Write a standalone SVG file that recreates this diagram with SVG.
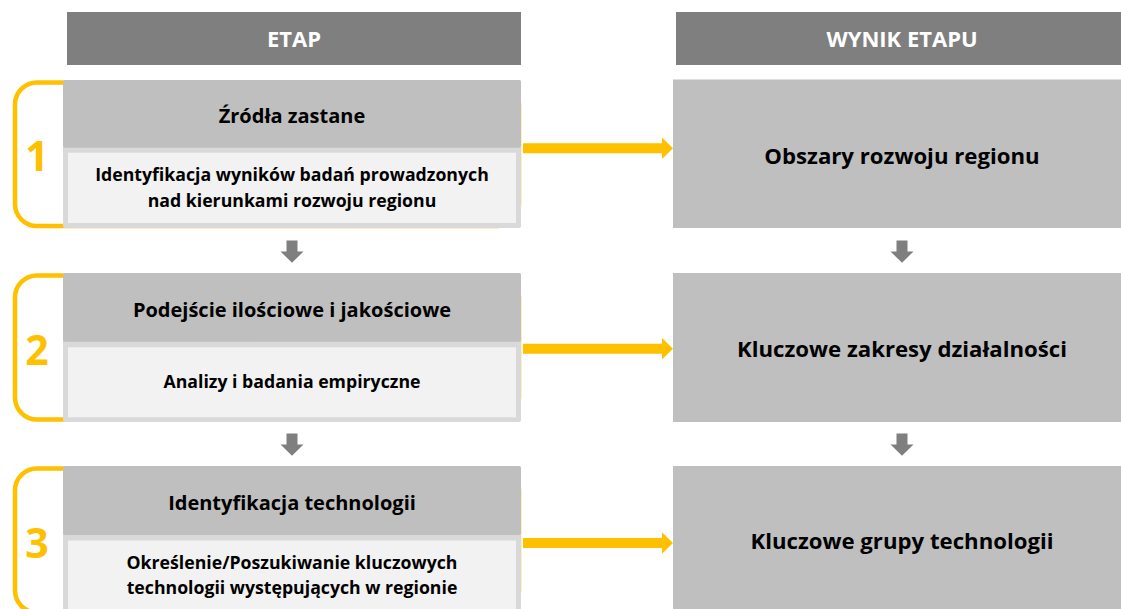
<svg xmlns="http://www.w3.org/2000/svg" width="1121" height="609" viewBox="0 0 1121 609">
<defs>
<style>
.hdr{fill:#7F7F7F}
.hdrt{fill:#FFFFFF;font-family:"Open Sans","Liberation Sans",sans-serif;font-weight:bold;font-size:22px;text-anchor:middle}
.br{fill:none;stroke:#FFC000;stroke-width:4.5}
.num{fill:#FFC000;font-family:"Open Sans","Liberation Sans",sans-serif;font-weight:bold;font-size:41px;text-anchor:middle}
.outer{fill:#D9D9D9}
.top{fill:#BFBFBF}
.inner{fill:#F2F2F2}
.res{fill:#BFBFBF}
.t1{fill:#000;font-family:"Open Sans","Liberation Sans",sans-serif;font-weight:bold;font-size:20px;text-anchor:middle}
.t2{fill:#000;font-family:"Open Sans","Liberation Sans",sans-serif;font-weight:bold;font-size:17.7px;text-anchor:middle}
.t3{fill:#000;font-family:"Open Sans","Liberation Sans",sans-serif;font-weight:bold;font-size:22.2px;text-anchor:middle}
.ya{fill:#FFC000}
.ga{fill:#7F7F7F}
</style>
</defs>
<g id="header-etap">
<rect class="hdr" x="67" y="12" width="454" height="53"/>
<text class="hdrt" x="294" y="47">ETAP</text>
</g>
<g id="header-wynik">
<rect class="hdr" x="676" y="12" width="445" height="53"/>
<text class="hdrt" x="902" y="47">WYNIK ETAPU</text>
</g>
<g id="stage1">
<rect class="br" x="15" y="82.5" width="504" height="143.5" rx="22"/>
<text class="num" x="37" y="171">1</text>
<rect class="outer" x="63" y="80" width="458" height="148" rx="2"/>
<rect class="top" x="63" y="80" width="458" height="67.7" rx="2"/>
<rect class="inner" x="68" y="152.7" width="448" height="70.3"/>
<text class="t1" x="292" y="123">Źródła zastane</text>
<text class="t2" x="292" y="181">Identyfikacja wyników badań prowadzonych</text>
<text class="t2" x="292" y="207">nad kierunkami rozwoju regionu</text>
</g>
<g id="stage2">
<rect class="br" x="15" y="275.5" width="504" height="144" rx="22"/>
<text class="num" x="37" y="365">2</text>
<rect class="outer" x="63" y="273" width="458" height="149" rx="2"/>
<rect class="top" x="63" y="273" width="458" height="68.7" rx="2"/>
<rect class="inner" x="68" y="347.3" width="448" height="70"/>
<text class="t1" x="292" y="317">Podejście ilościowe i jakościowe</text>
<text class="t2" x="292" y="388">Analizy i badania empiryczne</text>
</g>
<g id="stage3">
<rect class="br" x="15" y="468.5" width="504" height="144" rx="22"/>
<text class="num" x="37" y="558">3</text>
<rect class="outer" x="63" y="466" width="458" height="149" rx="2"/>
<rect class="top" x="63" y="466" width="458" height="69" rx="2"/>
<rect class="inner" x="68" y="540.5" width="448" height="70"/>
<text class="t1" x="292" y="510">Identyfikacja technologii</text>
<text class="t2" x="292" y="569">Określenie/Poszukiwanie kluczowych</text>
<text class="t2" x="292" y="594">technologii występujących w regionie</text>
</g>
<g id="result1">
<rect class="res" x="673" y="79.5" width="448" height="148.5"/>
<text class="t3" x="902" y="164">Obszary rozwoju regionu</text>
</g>
<g id="result2">
<rect class="res" x="673" y="273" width="448" height="149"/>
<text class="t3" x="902" y="357">Kluczowe zakresy działalności</text>
</g>
<g id="result3">
<rect class="res" x="673" y="466" width="448" height="149"/>
<text class="t3" x="902" y="549">Kluczowe grupy technologii</text>
</g>
<g id="connectors">
<polygon class="ya" points="523,143.3 662,143.3 662,137.5 673,148.3 662,159.1 662,153.3 523,153.3"/>
<polygon class="ya" points="523,343.7 662,343.7 662,337.9 673,348.7 662,359.5 662,353.7 523,353.7"/>
<polygon class="ya" points="523,538 662,538 662,532.2 673,543 662,553.8 662,548 523,548"/>
<polygon class="ga" points="286.5,240.5 297.5,240.5 297.5,251.5 303.5,251.5 292,262.8 280.5,251.5 286.5,251.5"/>
<polygon class="ga" points="286.5,433.5 297.5,433.5 297.5,444.5 303.5,444.5 292,455.8 280.5,444.5 286.5,444.5"/>
<polygon class="ga" points="896.5,240.5 907.5,240.5 907.5,251.5 913.5,251.5 902,262.8 890.5,251.5 896.5,251.5"/>
<polygon class="ga" points="896.5,433.5 907.5,433.5 907.5,444.5 913.5,444.5 902,455.8 890.5,444.5 896.5,444.5"/>
</g>
</svg>
